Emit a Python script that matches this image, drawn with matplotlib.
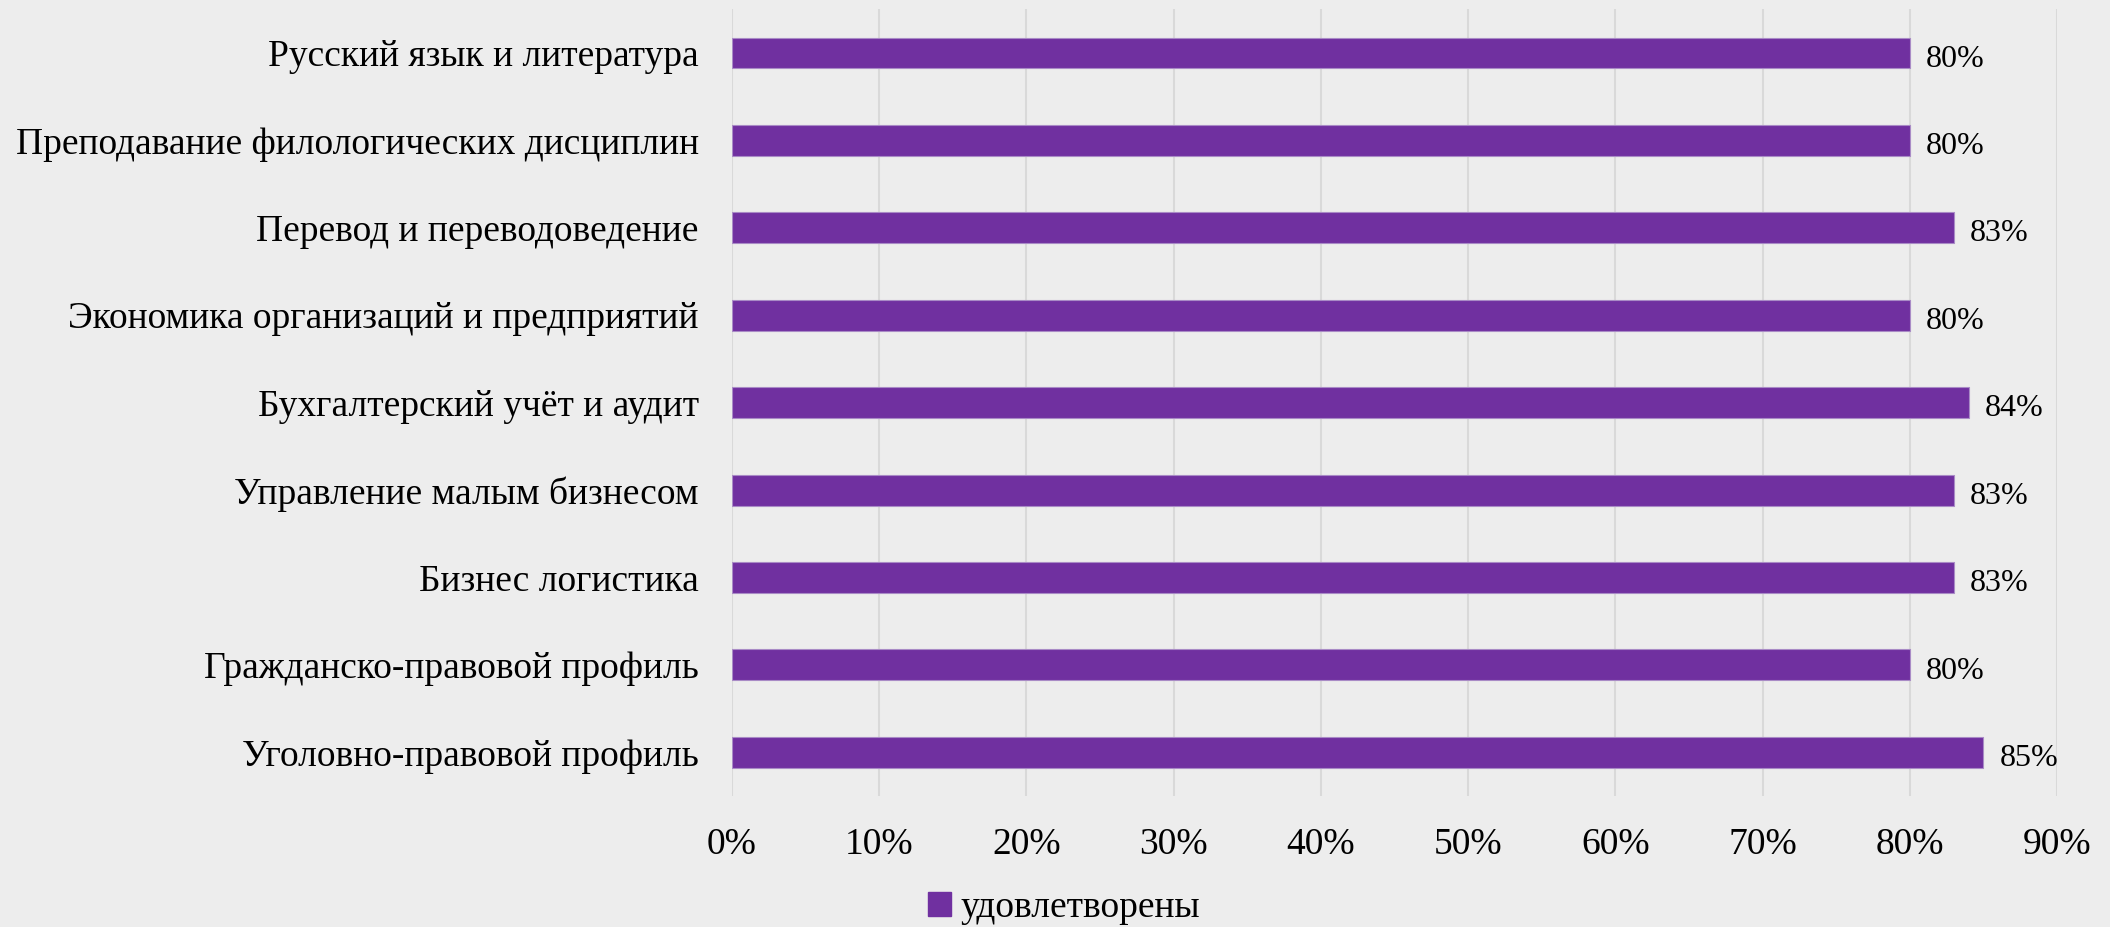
import matplotlib
matplotlib.use("Agg")
import matplotlib.pyplot as plt
from matplotlib.patches import Patch
from matplotlib.ticker import FuncFormatter, MultipleLocator

categories = [
    "Русский язык и литература",
    "Преподавание филологических дисциплин",
    "Перевод и переводоведение",
    "Экономика организаций и предприятий",
    "Бухгалтерский учёт и аудит",
    "Управление малым бизнесом",
    "Бизнес логистика",
    "Гражданско-правовой профиль",
    "Уголовно-правовой профиль",
]
values = [80, 80, 83, 80, 84, 83, 83, 80, 85]
series_name = "удовлетворены"

plt.rcParams['font.family'] = ['Liberation Serif', 'DejaVu Serif']

bg = "#EDEDED"
bar_color = "#7030A0"

fig = plt.figure(figsize=(21.10, 9.27), dpi=100, facecolor=bg)
ax = fig.add_axes([732/2110, 1-796/927, (2057-732)/2110, (796-9.3)/927])
ax.set_facecolor(bg)

y = list(range(len(categories)))
ax.barh(y, values, height=0.354, color=bar_color, edgecolor="#A98BC6", linewidth=0.8, zorder=3)
for yi, v in zip(y, values):
    ax.text(v + 1.1, yi + 0.03, f"{v}%", va="center_baseline", ha="left", fontsize=23, color="black", zorder=4)

ax.set_xlim(0, 90)
ax.set_ylim(len(categories) - 0.5, -0.5)
ax.set_yticks(y)
ax.set_yticklabels(categories, fontsize=27, va="center_baseline")
ax.xaxis.set_major_locator(MultipleLocator(10))
ax.xaxis.set_major_formatter(FuncFormatter(lambda x, p: f"{int(round(x))}%"))
ax.tick_params(axis='x', length=0, pad=23, labelsize=27)
ax.tick_params(axis='y', length=0, pad=24)
ax.grid(axis='x', color="#D9D9D9", linewidth=1.5, zorder=0)
ax.grid(axis='y', visible=False)
for s in ax.spines.values():
    s.set_visible(False)

handles = [Patch(facecolor=bar_color, edgecolor=bar_color, label=series_name)]
fig.legend(handles=handles, loc="center", bbox_to_anchor=(1064/2110, 1-908/927), frameon=False,
           fontsize=27, handlelength=0.6, handleheight=0.6, handletextpad=0.25)

fig.savefig("out.png", dpi=100, facecolor=bg)
